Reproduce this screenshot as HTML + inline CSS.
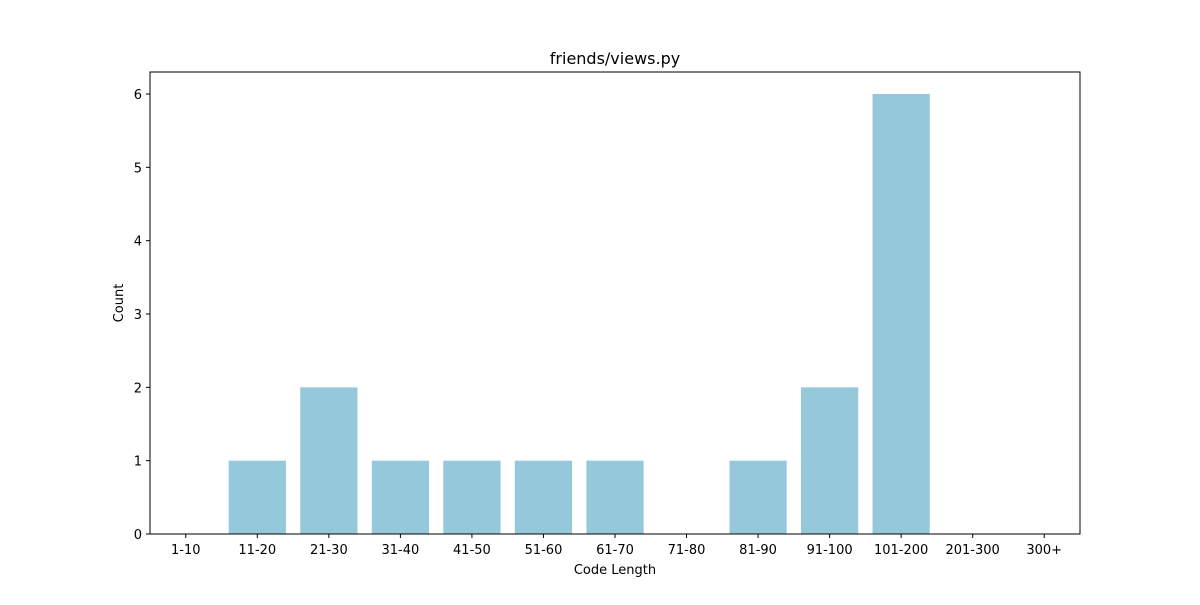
<!DOCTYPE html>
<html><head><meta charset="utf-8"><style>
body{margin:0;background:#fff;}
svg text{font-family:"DejaVu Sans","Liberation Sans",sans-serif;fill:#000;}
</style></head><body>
<svg id="chart" width="1200" height="600">
<rect width="1200" height="600" fill="#fff"/>
<text x="615" y="64" font-size="16" text-anchor="middle">friends/views.py</text>
<g id="bars"></g>
<g id="axes"></g>
<text x="615" y="574" font-size="13" text-anchor="middle">Code Length</text>
<text x="123" y="303" font-size="13" text-anchor="middle" transform="rotate(-90 123 303)">Count</text>
</svg>
<script>
const categories=["1-10","11-20","21-30","31-40","41-50","51-60","61-70","71-80","81-90","91-100","101-200","201-300","300+"];
const counts=[0,1,2,1,1,1,1,0,1,2,6,0,0];
const yTicks=[0,1,2,3,4,5,6];
const L=150,R=1080,T=72,B=534,yMax=6.3;
const step=(R-L)/categories.length;
const xc=i=>L+step*(i+0.5);
const y=v=>B-(v/yMax)*(B-T);
const NS="http://www.w3.org/2000/svg";
const bars=document.getElementById('bars'),axes=document.getElementById('axes');
function mk(tag,attrs,parent){const e=document.createElementNS(NS,tag);for(const k in attrs)e.setAttribute(k,attrs[k]);parent.appendChild(e);return e;}
counts.forEach((c,i)=>{
 const r=mk('rect',{x:xc(i)-step*0.4,y:y(c),width:step*0.8,height:B-y(c),fill:'#96c8dc'},bars);
 
 
});
const frame=mk('rect',{x:L,y:T,width:R-L,height:B-T,fill:'none',stroke:'#000','stroke-width':1},axes);


categories.forEach((c,i)=>{
 mk('line',{x1:xc(i),x2:xc(i),y1:B,y2:B+4,stroke:'#000'},axes);
 const t=mk('text',{x:xc(i),y:B+20,'font-size':13,'text-anchor':'middle'},axes);
 t.textContent=c;
 
 
});
yTicks.forEach(v=>{
 mk('line',{x1:L-4,x2:L,y1:y(v),y2:y(v),stroke:'#000'},axes);
 const t=mk('text',{x:L-8,y:y(v)+5,'font-size':13,'text-anchor':'end'},axes);
 t.textContent=v;
 
 
});
</script>
</body></html>
